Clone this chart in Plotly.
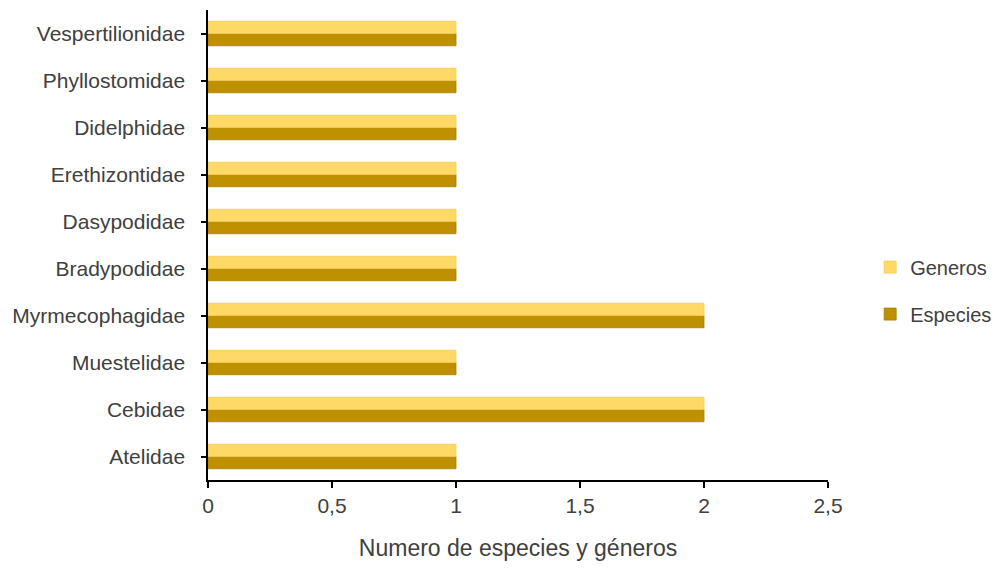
import plotly.graph_objects as go

families = ["Atelidae", "Cebidae", "Muestelidae", "Myrmecophagidae", "Bradypodidae",
            "Dasypodidae", "Erethizontidae", "Didelphidae", "Phyllostomidae", "Vespertilionidae"]
especies = [1, 2, 1, 2, 1, 1, 1, 1, 1, 1]
generos = [1, 2, 1, 2, 1, 1, 1, 1, 1, 1]
x_ticks = [0, 0.5, 1, 1.5, 2, 2.5]
x_labels = ["0", "0,5", "1", "1,5", "2", "2,5"]

FONT = "Liberation Sans Narrow, Arial Narrow, Liberation Sans, Arial, sans-serif"

fig = go.Figure()
fig.add_trace(go.Bar(y=families, x=especies, orientation="h", name="Especies",
                     marker=dict(color="#BF9000", line=dict(color="#A67D00", width=0.8)),
                     legendrank=2, legendgroup="e"))
fig.add_trace(go.Bar(y=families, x=generos, orientation="h", name="Generos",
                     marker=dict(color="#FFD966", line=dict(color="#F2CC5C", width=0.8)),
                     legendrank=1, legendgroup="g"))

fig.update_layout(
    width=995, height=569,
    margin=dict(l=208, r=167, t=10, b=89, autoexpand=False),
    barmode="group", bargap=0.48, bargroupgap=0,
    plot_bgcolor="white", paper_bgcolor="white",
    font=dict(family=FONT, size=21, color="#404040"),
    legend=dict(x=1.068, y=0.403, xanchor="left", yanchor="middle",
                traceorder="grouped", tracegroupgap=18,
                font=dict(size=20, color="#404040"), itemwidth=30),
    xaxis=dict(range=[0, 2.5], tickvals=x_ticks, ticktext=x_labels, automargin=False,
               showgrid=False, zeroline=False, showline=True, linecolor="black", linewidth=2,
               ticks="outside", ticklen=6, tickwidth=2, tickcolor="black",
               tickfont=dict(size=21),
               title=dict(text="Numero de especies y géneros", font=dict(size=23, color="#404040"), standoff=24)),
    yaxis=dict(showgrid=False, zeroline=False, showline=True, linecolor="black", linewidth=2,
               ticks="outside", ticklen=5, tickwidth=2, tickcolor="black", automargin=False,
               tickfont=dict(size=21),
               categoryorder="array", categoryarray=families, ticksuffix="  "),
)

fig.write_html("out.html", config={"displayModeBar": False},
               post_script="document.body.style.margin='0';document.body.style.overflow='hidden';")
